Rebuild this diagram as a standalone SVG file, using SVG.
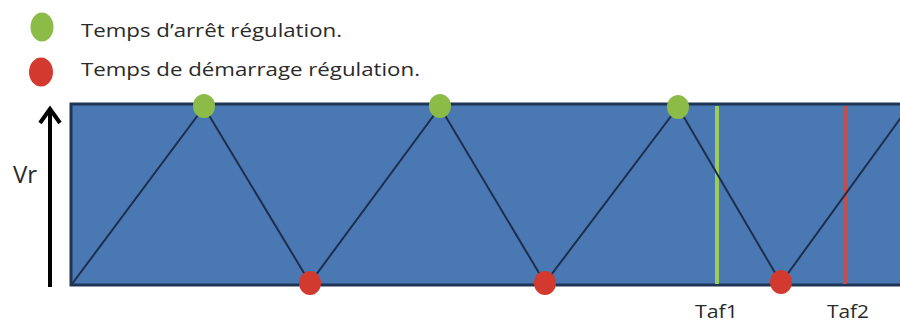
<svg xmlns="http://www.w3.org/2000/svg" width="900" height="325" viewBox="0 0 900 325">
  <defs>
    <style>
      .lbl { font-family: "Open Sans", "Liberation Sans", sans-serif; fill: #2a2a2a; }
      .green { fill: #8dbb48; }
      .red { fill: #d23a30; }
      .wave { fill: none; stroke: #1b2f4d; stroke-width: 2; }
    </style>
  </defs>

  <rect width="900" height="325" fill="#ffffff"/>

  <!-- legend -->
  <g id="legend">
    <ellipse class="green" cx="42" cy="27" rx="11.5" ry="14.5"/>
    <text class="lbl" x="81" y="37" font-size="18" textLength="261" lengthAdjust="spacingAndGlyphs">Temps d’arrêt régulation.</text>
    <ellipse class="red" cx="41" cy="72" rx="12" ry="14.5"/>
    <text class="lbl" x="81" y="76" font-size="18" textLength="339" lengthAdjust="spacingAndGlyphs">Temps de démarrage régulation.</text>
  </g>

  <!-- Vr axis -->
  <g id="axis">
    <line x1="50" y1="287" x2="50" y2="111" stroke="#000" stroke-width="4"/>
    <path d="M40,123 L50,109 L60,123" fill="none" stroke="#000" stroke-width="4"/>
    <text class="lbl" x="13" y="183" font-size="24" fill="#111">Vr</text>
  </g>

  <!-- plot area -->
  <g id="plot">
    <rect x="71" y="104" width="834" height="181" fill="#4a78b2" stroke="#1e3556" stroke-width="3"/>
  </g>

  <!-- markers at Taf1 / Taf2 -->
  <g id="taf1">
    <line x1="717" y1="106" x2="717" y2="284" stroke="#9ccc5c" stroke-width="4"/>
    <text class="lbl" x="695" y="318" font-size="18" textLength="43" lengthAdjust="spacingAndGlyphs">Taf1</text>
  </g>
  <g id="taf2">
    <line x1="845" y1="106" x2="845" y2="284" stroke="#c0504d" stroke-width="4"/>
    <text class="lbl" x="827" y="318" font-size="18" textLength="42" lengthAdjust="spacingAndGlyphs">Taf2</text>
  </g>

  <!-- regulation signal -->
  <g id="connectors">
    <polyline class="wave" points="72,284 204,107 310,283 440,107 545,283 678,107 781,283 905,112"/>
  </g>

  <!-- stop points -->
  <g id="stop1"><ellipse class="green" cx="204" cy="106" rx="11" ry="12"/></g>
  <g id="stop2"><ellipse class="green" cx="440" cy="106" rx="11" ry="12"/></g>
  <g id="stop3"><ellipse class="green" cx="678" cy="107" rx="11" ry="12"/></g>

  <!-- start points -->
  <g id="start1"><ellipse class="red" cx="310" cy="283" rx="11" ry="12"/></g>
  <g id="start2"><ellipse class="red" cx="545" cy="283" rx="11" ry="12"/></g>
  <g id="start3"><ellipse class="red" cx="781" cy="282" rx="11" ry="12"/></g>
</svg>
